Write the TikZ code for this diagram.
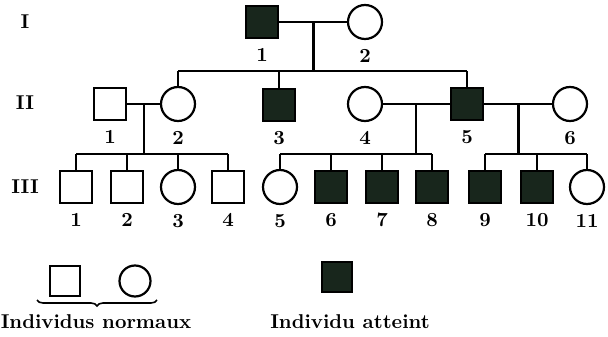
\documentclass[tikz,border=0pt]{standalone}
\usepackage{tikz}
\usepackage{amsmath, amssymb}
\usetikzlibrary{calc}
\usetikzlibrary{decorations.pathreplacing}
\definecolor{affectedColor}{RGB}{24,38,28}

\begin{document}
\begin{tikzpicture}[x=0.5pt, y=-0.5pt, line width=1.1pt,
    male/.style={draw, rectangle, minimum size=16pt, inner sep=0pt},
    female/.style={draw, circle, minimum size=17pt, inner sep=0pt},
    affected/.style={male, fill=affectedColor},
    num/.style={font=\bfseries, inner sep=1pt, label distance=3pt},
    gen/.style={font=\bfseries}]
    \useasboundingbox (0,0) rectangle (608,336);
    % generations
    \node[gen] (genI) at (25,22) {I};
    \node[gen] (genII) at (25,103) {II};
    \node[gen] (genIII) at (25,187) {III};
    % generation I
    \node[affected, label={[num]below:1}] (I1) at (262,22) {};
    \node[female, label={[num]below:2}] (I2) at (365,22) {};
    % generation II
    \node[male, label={[num]below:1}] (II1) at (110,104) {};
    \node[female, label={[num]below:2}] (II2) at (178,104) {};
    \node[affected, label={[num]below:3}] (II3) at (279,105) {};
    \node[female, label={[num]below:4}] (II4) at (365,104) {};
    \node[affected, label={[num]below:5}] (II5) at (467,104) {};
    \node[female, label={[num]below:6}] (II6) at (570,104) {};
    % generation III
    \node[male, label={[num]below:1}] (III1) at (76,187) {};
    \node[male, label={[num]below:2}] (III2) at (127,187) {};
    \node[female, label={[num]below:3}] (III3) at (178,187) {};
    \node[male, label={[num]below:4}] (III4) at (228,187) {};
    \node[female, label={[num]below:5}] (III5) at (280,187) {};
    \node[affected, label={[num]below:6}] (III6) at (331,187) {};
    \node[affected, label={[num]below:7}] (III7) at (382,187) {};
    \node[affected, label={[num]below:8}] (III8) at (432,187) {};
    \node[affected, label={[num]below:9}] (III9) at (485,187) {};
    \node[affected, label={[num]below:10}] (III10) at (537,187) {};
    \node[female, label={[num]below:11}] (III11) at (587,187) {};
    % couples and their children
    \coordinate (mI) at ($(I1)!0.5!(I2)$);
    \coordinate (mA) at ($(II1)!0.5!(II2)$);
    \coordinate (mB) at ($(II4)!0.5!(II5)$);
    \coordinate (mC) at ($(II5)!0.5!(II6)$);
    \coordinate (sI) at (mI |- 0,71);
    \coordinate (sA) at (mA |- 0,154);
    \coordinate (sB) at (mB |- 0,154);
    \coordinate (sC) at (mC |- 0,154);
    \draw (I1) -- (I2);
    \draw (II1) -- (II2);
    \draw (II4) -- (II5) -- (II6);
    \draw (mI) -- (sI);
    \draw (mA) -- (sA);
    \draw (mB) -- (sB);
    \draw (mC) -- (sC);
    \draw (II2 |- sI) -- (II5 |- sI);
    \foreach \c in {II2, II3, II5} \draw (\c) -- (\c |- sI);
    \draw (III1 |- sA) -- (III4 |- sA);
    \foreach \c in {III1, III2, III3, III4} \draw (\c) -- (\c |- sA);
    \draw (III5 |- sB) -- (III8 |- sB);
    \foreach \c in {III5, III6, III7, III8} \draw (\c) -- (\c |- sB);
    \draw (III9 |- sC) -- (III11 |- sC);
    \foreach \c in {III9, III10, III11} \draw (\c) -- (\c |- sC);
    % legend
    \node[male, minimum size=15pt] (legMale) at (65,281) {};
    \node[female, minimum size=15.5pt] (legFemale) at (135,281) {};
    \node[affected, minimum size=15pt] (legAffected) at (337,277) {};
    \draw[decorate, decoration={brace, mirror, amplitude=3pt}, line width=0.8pt]
        (37,300) -- (157,300);
    \node[font=\bfseries] (normalText) at (96,322) {Individus normaux};
    \node[font=\bfseries] (affectedText) at (350,322) {Individu atteint};
\end{tikzpicture}
\end{document}
